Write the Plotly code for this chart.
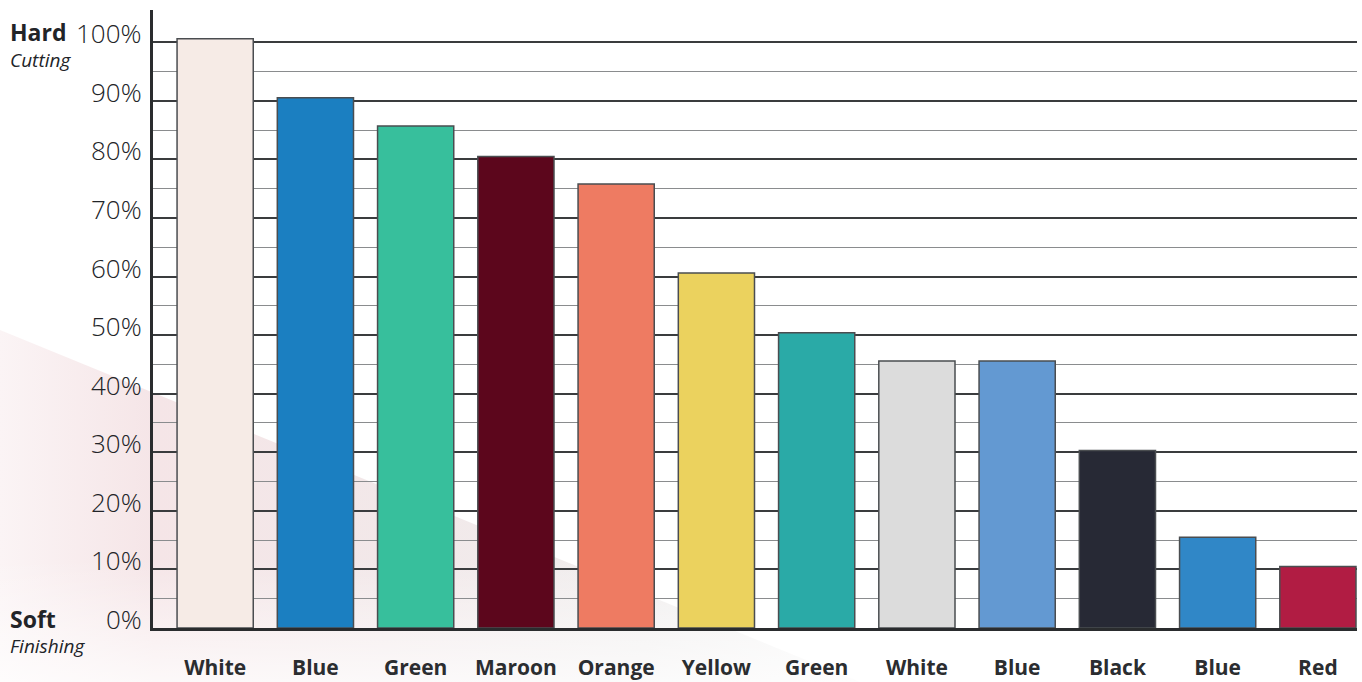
import base64
import plotly.graph_objects as go

# --- chart data
categories = ['White', 'Blue', 'Green', 'Maroon', 'Orange', 'Yellow',
              'Green', 'White', 'Blue', 'Black', 'Blue', 'Red']
hardness = [100.6, 90.5, 85.7, 80.5, 75.8, 60.6, 50.4, 45.6, 45.6, 30.3, 15.5, 10.5]
bar_colors = ['#f6ebe6', '#1b7fc1', '#37bf9c', '#5c061c', '#ee7b62', '#ebd25e',
              '#2aaaa7', '#dcdcdc', '#6399d2', '#272935', '#3087c7', '#b11c43']
tick_values = [0, 10, 20, 30, 40, 50, 60, 70, 80, 90, 100]
tick_labels = ['0%', '10%', '20%', '30%', '40%', '50%', '60%', '70%', '80%', '90%', '100%']

FONT = 'Open Sans'
TEXT = '#222428'
W, H = 1362, 682
L, R, T, B = 153, 5, 10, 54
PW, PH = W - L - R, H - T - B

fig = go.Figure()
fig.add_trace(go.Bar(
    x=list(range(len(categories))), y=hardness, width=0.76,
    marker=dict(color=bar_colors, line=dict(color='#4a4d50', width=1.5)),
    hoverinfo='skip', showlegend=False))

#--- soft pink/grey wash in the lower left, as an svg background image
svg = f'''<svg xmlns="http://www.w3.org/2000/svg" width="{W}" height="{H}" viewBox="0 0 {W} {H}">
<defs>
<linearGradient id="g" x1="0" y1="0" x2="1" y2="0">
<stop offset="0" stop-color="#fbf4f5"/>
<stop offset="0.18" stop-color="#f5e5e7"/>
<stop offset="0.45" stop-color="#f2e8e9"/>
<stop offset="0.75" stop-color="#f0eeee"/>
<stop offset="1" stop-color="#f8f8f8"/>
</linearGradient>
<linearGradient id="f" x1="0" y1="0" x2="0" y2="1">
<stop offset="0" stop-color="#ffffff" stop-opacity="0"/>
<stop offset="0.65" stop-color="#ffffff" stop-opacity="0"/>
<stop offset="1" stop-color="#ffffff" stop-opacity="0.75"/>
</linearGradient>
</defs>
<polygon points="0,330 860,682 0,682" fill="url(#g)"/>
<rect x="0" y="330" width="{W}" height="{H - 330}" fill="url(#f)"/>
</svg>'''
src = 'data:image/svg+xml;base64,' + base64.b64encode(svg.encode()).decode()
fig.add_layout_image(source=src, xref='paper', yref='paper', x=-L / PW, y=1 + T / PH,
                     sizex=W / PW, sizey=H / PH, xanchor='left', yanchor='top',
                     sizing='stretch', layer='below')

#--- y tick labels sit slightly above their grid lines
for v, t in zip(tick_values, tick_labels):
  fig.add_annotation(x=0, xref='paper', y=v, yref='y', text=t, showarrow=False,
                     xanchor='right', xshift=-9, yshift=9,
                     font=dict(family=FONT, size=26, color=TEXT, weight=300))

side_labels = [
  ('<b>Hard</b>', 32, 23, 'normal'), ('Cutting', 60, 19, 'italic'),
  ('<b>Soft</b>', 619, 23, 'normal'), ('Finishing', 646, 19, 'italic'),
]
for t, ypix, sz, style in side_labels:
  fig.add_annotation(x=(8 - L) / PW, xref='paper', y=(H - B - ypix) / PH, yref='paper', text=t,
                     showarrow=False, xanchor='left', yanchor='middle',
                     font=dict(family=FONT, size=sz, color=TEXT, style=style))

fig.update_layout(
  width=W, height=H,
  margin=dict(l=L, r=R, t=T, b=B, autoexpand=False),
  paper_bgcolor='white', plot_bgcolor='rgba(0,0,0,0)',
  xaxis=dict(range=[-0.62, 11.39], tickvals=list(range(len(categories))), ticktext=categories,
             tickfont=dict(family=FONT, size=21, color='#2b2d30', weight=700),
             ticks='outside', ticklen=19, tickcolor='rgba(0,0,0,0)', automargin=False,
             showgrid=False, zeroline=False, showline=True, linecolor='#2a2c2e', linewidth=3),
  yaxis=dict(range=[0, 105.5], tickvals=tick_values, showticklabels=False, ticks='',
             automargin=False,
             showgrid=True, gridcolor='#3a3c3e', gridwidth=1.6, zeroline=False,
             minor=dict(tickvals=[5, 15, 25, 35, 45, 55, 65, 75, 85, 95], showgrid=True,
                        gridcolor='#8a8c8e', gridwidth=1),
             showline=True, linecolor='#2a2c2e', linewidth=3),
)

# the page body has a default margin; drop it so the figure sits at the window corner
fig.write_html('out.html', config={'displayModeBar': False},
               post_script="document.body.style.margin='0';")
